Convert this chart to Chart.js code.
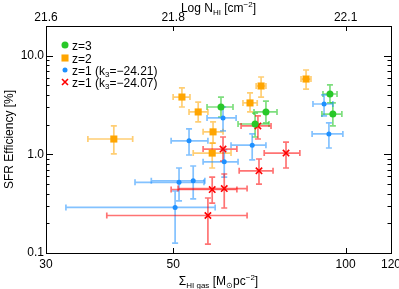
<!DOCTYPE html>
<html><head><meta charset="utf-8">
<script src="https://cdn.jsdelivr.net/npm/chart.js@4/dist/chart.umd.min.js"></script>
<style>html,body{margin:0;padding:0;background:#fff;}canvas{display:block;}</style>
</head><body>
<canvas id="c" width="399" height="289"></canvas>
<script>
// ---- data (Sigma_HI gas [Msun pc^-2], SFR efficiency [%]) ----
const z3X   = [60.6, 72.6, 69.5, 93.9, 95.0];
const z3Y   = [3.02, 2.69, 2.03, 4.09, 2.56];
const z3XLo = [57.3, 69.2, 64.9, 91.3, 90.9];
const z3XHi = [63.6, 75.9, 73.5, 96.6, 98.5];
const z3YLo = [2.39, 2.08, 1.50, 3.32, 1.94];
const z3YHi = [3.81, 3.47, 2.62, 5.05, 3.32];

const z2X   = [85.3, 71.2, 68.1, 51.8, 55.3, 58.7, 58.5, 39.4];
const z2Y   = [5.80, 4.93, 3.32, 3.81, 2.69, 1.69, 1.03, 1.43];
const z2XLo = [83.6, 69.8, 66.2, 50.0, 53.3, 56.4, 54.2, 35.5];
const z2XHi = [87.0, 72.6, 70.1, 53.5, 57.5, 61.1, 63.1, 42.5];
const z2YLo = [4.59, 3.81, 2.69, 3.02, 2.13, 1.30, 0.727, 1.01];
const z2YHi = [7.16, 6.08, 4.19, 4.71, 3.39, 2.13, 1.30, 1.94];

const z1aX   = [53.3, 51.2, 54.2, 50.4, 61.1, 61.4, 68.7, 91.7, 93.5];
const z1aY   = [1.37, 0.52, 0.54, 0.29, 2.34, 0.84, 1.24, 3.24, 1.61];
const z1aXLo = [49.6, 42.9, 45.8, 32.5, 57.3, 56.4, 63.1, 87.7, 87.4];
const z1aXHi = [57.5, 56.6, 56.8, 59.2, 64.4, 64.9, 72.6, 95.0, 98.9];
const z1aYLo = [0.985, 0.337, 0.353, 0.126, 1.73, 0.589, 0.877, 2.45, 1.16];
const z1aYHi = [1.81, 0.727, 0.762, 0.425, 3.02, 1.11, 1.61, 4.00, 2.08];

const z1bX   = [70.3, 61.1, 78.7, 70.6, 58.5, 61.4, 57.5];
const z1bY   = [1.94, 1.13, 1.03, 0.68, 0.44, 0.45, 0.24];
const z1bXLo = [65.7, 56.4, 72.1, 65.2, 49.6, 51.0, 38.3];
const z1bXHi = [74.1, 64.6, 83.2, 74.7, 64.6, 67.3, 67.3];
const z1bYLo = [1.43, 0.856, 0.727, 0.500, 0.321, 0.286, 0.123];
const z1bYHi = [2.45, 1.50, 1.33, 0.897, 0.589, 0.632, 0.361];

const xTickValues = [30, 50, 100, 120];
const xTickLabels = ['30', '50', '100', '120'];
const topTickValues = [30, 50, 100];
const topTickLabels = ['21.6', '21.8', '22.1'];
const yTickValues = [0.1, 1, 10];
const yTickLabels = ['0.1', '1.0', '10.0'];
const yMinorValues = [0.2,0.3,0.4,0.5,0.6,0.7,0.8,0.9,2,3,4,5,6,7,8,9];
const seriesLabels = [
  [{t:'z=3'}],
  [{t:'z=2'}],
  [{t:'z=1 (k'},{t:'3',sub:true},{t:'=\u221224.21)'}],
  [{t:'z=1 (k'},{t:'3',sub:true},{t:'=\u221224.07)'}]
];

const FONT = '"Liberation Sans", Arial, Helvetica, sans-serif';

function pts(xs, ys, xlo, xhi, ylo, yhi) {
  return xs.map((x, i) => ({x: x, y: ys[i], xlo: xlo[i], xhi: xhi[i], ylo: ylo[i], yhi: yhi[i]}));
}

function richWidth(ctx, segs, size) {
  let w = 0;
  segs.forEach(s => {
    const fs = (s.sub || s.sup) ? Math.round(size * 0.68) : size;
    ctx.font = fs + 'px ' + FONT;
    w += ctx.measureText(s.t).width;
  });
  return w;
}
function drawRich(ctx, segs, x, y, size, align) {
  let w = richWidth(ctx, segs, size);
  let cx = align === 'center' ? x - w / 2 : x;
  ctx.textBaseline = 'alphabetic';
  ctx.textAlign = 'left';
  segs.forEach(s => {
    const fs = (s.sub || s.sup) ? Math.round(size * 0.68) : size;
    ctx.font = fs + 'px ' + FONT;
    let dy = 0;
    if (s.sub) dy = size * 0.22;
    if (s.sup) dy = -size * 0.42;
    ctx.fillText(s.t, cx, y + dy);
    cx += ctx.measureText(s.t).width;
  });
}

const errPlugin = {
  id: 'errbars',
  beforeDatasetsDraw(chart) {
    const ctx = chart.ctx, xs = chart.scales.x, ys = chart.scales.y;
    const cap = 3;
    chart.data.datasets.forEach(ds => {
      ctx.save();
      ctx.strokeStyle = ds.errColor;
      ctx.lineWidth = 1.7;
      ds.data.forEach(p => {
        const px = xs.getPixelForValue(p.x), py = ys.getPixelForValue(p.y);
        const x0 = xs.getPixelForValue(p.xlo), x1 = xs.getPixelForValue(p.xhi);
        const y0 = ys.getPixelForValue(p.ylo), y1 = ys.getPixelForValue(p.yhi);
        ctx.beginPath();
        ctx.moveTo(x0, py); ctx.lineTo(x1, py);
        ctx.moveTo(x0, py - cap); ctx.lineTo(x0, py + cap);
        ctx.moveTo(x1, py - cap); ctx.lineTo(x1, py + cap);
        ctx.stroke();
        ctx.beginPath();
        ctx.moveTo(px, y0); ctx.lineTo(px, y1);
        ctx.moveTo(px - cap, y0); ctx.lineTo(px + cap, y0);
        ctx.moveTo(px - cap, y1); ctx.lineTo(px + cap, y1);
        ctx.stroke();
      });
      ctx.restore();
    });
  }
};

const framePlugin = {
  id: 'frame',
  afterDraw(chart) {
    const ctx = chart.ctx, a = chart.chartArea;
    const xs = chart.scales.x, xt = chart.scales.x2, ys = chart.scales.y;
    ctx.save();
    ctx.strokeStyle = '#000';
    ctx.lineWidth = 1;
    ctx.strokeRect(Math.round(a.left) + 0.5, Math.round(a.top) + 0.5,
                   Math.round(a.right - a.left), Math.round(a.bottom - a.top));
    ctx.beginPath();
    xTickValues.forEach(v => {
      const p = Math.round(xs.getPixelForValue(v)) + 0.5;
      ctx.moveTo(p, a.bottom); ctx.lineTo(p, a.bottom - 5);
    });
    topTickValues.forEach(v => {
      const p = Math.round(xt.getPixelForValue(v)) + 0.5;
      ctx.moveTo(p, a.top); ctx.lineTo(p, a.top + 5);
    });
    yTickValues.forEach(v => {
      const p = Math.round(ys.getPixelForValue(v)) + 0.5;
      ctx.moveTo(a.left, p); ctx.lineTo(a.left + 7, p);
      ctx.moveTo(a.right, p); ctx.lineTo(a.right - 7, p);
    });
    yMinorValues.forEach(v => {
      const p = Math.round(ys.getPixelForValue(v)) + 0.5;
      ctx.moveTo(a.left, p); ctx.lineTo(a.left + 3.5, p);
      ctx.moveTo(a.right, p); ctx.lineTo(a.right - 3.5, p);
    });
    ctx.stroke();

    ctx.fillStyle = '#000';
    ctx.font = '12px ' + FONT;
    ctx.textAlign = 'center';
    ctx.textBaseline = 'middle';
    xTickValues.forEach((v, i) => {
      ctx.fillText(xTickLabels[i], xs.getPixelForValue(v), a.bottom + 12);
    });
    topTickValues.forEach((v, i) => {
      ctx.fillText(topTickLabels[i], xt.getPixelForValue(v), a.top - 8);
    });
    ctx.textAlign = 'right';
    yTickValues.forEach((v, i) => {
      ctx.fillText(yTickLabels[i], a.left - 2, ys.getPixelForValue(v));
    });

    const cx = (a.left + a.right) / 2;
    drawRich(ctx, [{t:'\u03A3'},{t:'HI gas',sub:true},{t:' [M'},{t:'\u2299',sub:true},{t:'pc'},{t:'\u22122',sup:true},{t:']'}],
             cx, 285, 12, 'center');
    drawRich(ctx, [{t:'Log N'},{t:'HI',sub:true},{t:' [cm'},{t:'\u22122',sup:true},{t:']'}],
             cx, 12, 12, 'center');
    ctx.save();
    ctx.translate(13, (a.top + a.bottom) / 2);
    ctx.rotate(-Math.PI / 2);
    drawRich(ctx, [{t:'SFR Efficiency [%]'}], 0, 0, 12, 'center');
    ctx.restore();

    // legend
    const lx = 65, tx = 72, rows = [45, 58, 70, 82];
    chart.data.datasets.forEach((ds, i) => {
      ctx.fillStyle = ds.backgroundColor;
      ctx.strokeStyle = ds.borderColor;
      ctx.lineWidth = ds.borderWidth;
      ctx.beginPath();
      if (ds.pointStyle === 'crossRot') {
        const r = 3;
        ctx.moveTo(lx - r, rows[i] - r); ctx.lineTo(lx + r, rows[i] + r);
        ctx.moveTo(lx - r, rows[i] + r); ctx.lineTo(lx + r, rows[i] - r);
        ctx.stroke();
      } else if (ds.pointStyle === 'rect') {
        const s = ds.pointRadius * 0.707;
        ctx.rect(lx - s, rows[i] - s, 2 * s, 2 * s); ctx.fill();
      } else {
        ctx.arc(lx, rows[i], ds.pointRadius, 0, Math.PI * 2); ctx.fill();
      }
      ctx.fillStyle = '#000';
      drawRich(ctx, seriesLabels[i], tx, rows[i] + 4.5, 12, 'left');
    });
    ctx.restore();
  }
};

new Chart(document.getElementById('c'), {
  type: 'scatter',
  data: {
    datasets: [
      { label: 'z=3', data: pts(z3X, z3Y, z3XLo, z3XHi, z3YLo, z3YHi),
        pointStyle: 'circle', pointRadius: 3.5, backgroundColor: 'rgb(40,200,40)', borderColor: 'rgb(40,200,40)',
        borderWidth: 0, errColor: 'rgba(40,200,40,0.6)' },
      { label: 'z=2', data: pts(z2X, z2Y, z2XLo, z2XHi, z2YLo, z2YHi),
        pointStyle: 'rect', pointRadius: 5, backgroundColor: 'rgb(255,165,0)', borderColor: 'rgb(255,165,0)',
        borderWidth: 0, errColor: 'rgba(255,165,0,0.55)' },
      { label: 'z=1 (k3=-24.21)', data: pts(z1aX, z1aY, z1aXLo, z1aXHi, z1aYLo, z1aYHi),
        pointStyle: 'circle', pointRadius: 2.5, backgroundColor: 'rgb(30,144,255)', borderColor: 'rgb(30,144,255)',
        borderWidth: 0, errColor: 'rgba(30,144,255,0.55)' },
      { label: 'z=1 (k3=-24.07)', data: pts(z1bX, z1bY, z1bXLo, z1bXHi, z1bYLo, z1bYHi),
        pointStyle: 'crossRot', pointRadius: 4.5, backgroundColor: 'rgb(255,0,0)', borderColor: 'rgb(255,0,0)',
        borderWidth: 1.6, errColor: 'rgba(255,0,0,0.55)' }
    ]
  },
  options: {
    responsive: false,
    animation: false,
    devicePixelRatio: 1,
    layout: { padding: { left: 46, right: 8, top: 26, bottom: 36 } },
    plugins: { legend: { display: false }, tooltip: { enabled: false } },
    scales: {
      x: { type: 'logarithmic', min: 30, max: 120, display: false },
      x2: { type: 'logarithmic', position: 'top', min: 30, max: 120, display: false },
      y: { type: 'logarithmic', min: 0.1, max: 20, display: false }
    }
  },
  plugins: [errPlugin, framePlugin]
});
</script>
</body></html>
